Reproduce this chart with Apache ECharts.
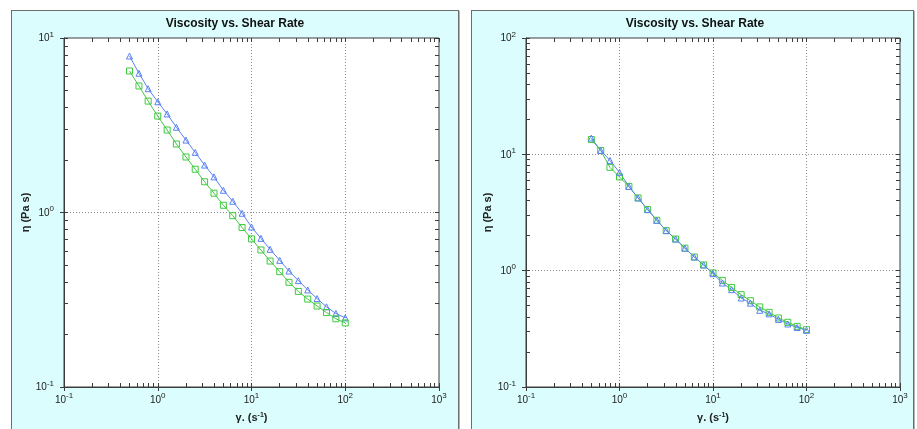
<!DOCTYPE html>
<html>
<head>
  <meta charset="utf-8">
  <title>Viscosity vs. Shear Rate</title>
  <script src="https://cdn.jsdelivr.net/npm/echarts@6/dist/echarts.min.js"></script>
  <style>
    html, body { margin: 0; padding: 0; background: #fff; }
    .panel { position: absolute; top: 10px; height: 440px; background: #dbfdfd;
             border: 1px solid #6d6d6d; box-shadow: 1px 1px 0 #b4b4b4; box-sizing: border-box; }
    #main { position: absolute; left: 0; top: 0; width: 917px; height: 429px; }
  </style>
</head>
<body>
  <div class="panel" style="left:11px;width:448px;"></div>
  <div class="panel" style="left:471px;width:443px;"></div>
  <div id="main"></div>

  <script>
    // shear rate (1/s), same for every series
    const shearRate = [0.5, 0.63, 0.79, 1.0, 1.26, 1.58, 2.0, 2.51, 3.16, 3.98, 5.01, 6.31,
                       7.94, 10.0, 12.6, 15.8, 20.0, 25.1, 31.6, 39.8, 50.1, 63.1, 79.4, 100];

    // left chart
    const leftBlue = [7.88, 6.28, 5.12, 4.31, 3.67, 3.08, 2.60, 2.21, 1.87, 1.60, 1.34, 1.16,
                      0.99, 0.826, 0.711, 0.615, 0.532, 0.462, 0.407, 0.360, 0.321, 0.288, 0.264, 0.249];
    const leftGreen = [6.47, 5.31, 4.35, 3.57, 2.97, 2.47, 2.08, 1.77, 1.50, 1.29, 1.10, 0.959,
                       0.82, 0.706, 0.610, 0.527, 0.458, 0.398, 0.353, 0.319, 0.291, 0.267, 0.246, 0.233];

    // right chart
    const rightBlue = [13.8, 10.8, 8.87, 7.0, 5.30, 4.22, 3.35, 2.71, 2.21, 1.87, 1.56, 1.31,
                       1.12, 0.942, 0.783, 0.687, 0.582, 0.526, 0.456, 0.425, 0.381, 0.348, 0.325, 0.307];
    const rightGreen = [13.4, 10.8, 7.73, 6.39, 5.30, 4.22, 3.35, 2.71, 2.21, 1.87, 1.56, 1.31,
                        1.12, 0.955, 0.825, 0.718, 0.622, 0.552, 0.488, 0.438, 0.392, 0.360, 0.332, 0.311];

    // axis ranges (decades)
    const xRange = [0.1, 1000];
    const yRangeLeft = [0.1, 10];
    const yRangeRight = [0.1, 100];

    const BLUE = '#5b82f4';
    const GREEN = '#3fca3f';
    const FRAME = '#3c3c3c';
    const FONT = '"Liberation Sans", Arial, sans-serif';

    const rich = {
      b: { fontSize: 10, fontFamily: FONT, color: '#222', lineHeight: 11, verticalAlign: 'bottom' },
      e: { fontSize: 8, fontFamily: FONT, color: '#222', lineHeight: 8, padding: [0, 0, 5, 0], verticalAlign: 'bottom' }
    };
    function powLabel(v) {
      return '{b|10}{e|' + Math.round(Math.log10(v)) + '}';
    }
    // minor tick positions in exponent space: 1..9 per decade
    function minorTicks(lo, hi) {
      const out = [];
      for (let d = lo; d < hi; d++) {
        for (let m = 1; m <= 9; m++) out.push(d + Math.log10(m));
      }
      out.push(hi);
      return out;
    }

    function logAxis(grid, range, position, extra) {
      return Object.assign({
        type: 'log', logBase: 10, gridIndex: grid, position: position,
        min: range[0], max: range[1],
        axisLine: { show: true, onZero: false, lineStyle: { color: FRAME, width: 1 } },
        axisTick: { show: true, inside: false, length: 4, lineStyle: { color: FRAME } },
        axisLabel: { formatter: powLabel, rich: rich, margin: position === 'left' ? 10 : 7 },
        splitLine: { show: true, showMinLine: false, showMaxLine: false,
                     lineStyle: { color: '#8a8a8a', width: 1, type: [1, 2] } }
      }, extra);
    }
    function tickAxis(grid, range, position) {
      const lo = Math.round(Math.log10(range[0])), hi = Math.round(Math.log10(range[1]));
      return {
        type: 'value', gridIndex: grid, position: position, min: lo, max: hi,
        axisLine: { show: false, onZero: false }, axisLabel: { show: false }, splitLine: { show: false },
        axisTick: { show: true, inside: true, length: 4, customValues: minorTicks(lo, hi),
                    lineStyle: { color: FRAME } }
      };
    }

    const xName = {
      name: 'γ. (s{s|-1})', nameLocation: 'middle', nameGap: 25,
      nameTextStyle: { fontFamily: FONT, fontWeight: 'bold', fontSize: 11, color: '#222',
                       rich: { s: { fontFamily: FONT, fontWeight: 'bold', fontSize: 7, color: '#222', padding: [0, 0, 5, 0] } } }
    };
    const yName = {
      name: 'η (Pa s)', nameLocation: 'middle', nameGap: 29, nameRotate: 90,
      nameTextStyle: { fontFamily: FONT, fontWeight: 'bold', fontSize: 11, color: '#222' }
    };

    function line(name, data, xi, yi, color, symbol) {
      return {
        name: name, type: 'line', xAxisIndex: xi, yAxisIndex: yi,
        data: shearRate.map((x, i) => [x, data[i]]),
        symbol: symbol, symbolSize: 6, showSymbol: true,
        lineStyle: { color: color, width: 1 },
        itemStyle: { color: 'rgba(0,0,0,0)', borderColor: color, borderWidth: 1 },
        emphasis: { disabled: true }
      };
    }

    const chart = echarts.init(document.getElementById('main'));
    const option = {
      backgroundColor: 'transparent',
      animation: false,
      graphic: [
        { type: 'text', x: 235, y: 24, style: { text: 'Viscosity vs. Shear Rate', align: 'center', verticalAlign: 'middle',
          font: 'bold 12px ' + FONT, fill: '#111' } },
        { type: 'text', x: 695, y: 24, style: { text: 'Viscosity vs. Shear Rate', align: 'center', verticalAlign: 'middle',
          font: 'bold 12px ' + FONT, fill: '#111' } }
      ],
      grid: [
        { left: 64, top: 38, width: 375, height: 349, show: true, backgroundColor: '#fff', borderColor: FRAME, borderWidth: 1 },
        { left: 526, top: 38, width: 374, height: 349, show: true, backgroundColor: '#fff', borderColor: FRAME, borderWidth: 1 }
      ],
      xAxis: [
        logAxis(0, xRange, 'bottom', xName),
        tickAxis(0, xRange, 'bottom'),
        tickAxis(0, xRange, 'top'),
        logAxis(1, xRange, 'bottom', xName),
        tickAxis(1, xRange, 'bottom'),
        tickAxis(1, xRange, 'top')
      ],
      yAxis: [
        logAxis(0, yRangeLeft, 'left', yName),
        tickAxis(0, yRangeLeft, 'left'),
        tickAxis(0, yRangeLeft, 'right'),
        logAxis(1, yRangeRight, 'left', yName),
        tickAxis(1, yRangeRight, 'left'),
        tickAxis(1, yRangeRight, 'right')
      ],
      series: [
        line('left blue', leftBlue, 0, 0, BLUE, 'triangle'),
        line('left green', leftGreen, 0, 0, GREEN, 'rect'),
        line('right green', rightGreen, 3, 3, GREEN, 'rect'),
        line('right blue', rightBlue, 3, 3, BLUE, 'triangle')
      ]
    };
    chart.setOption(option);
  </script>
</body>
</html>
